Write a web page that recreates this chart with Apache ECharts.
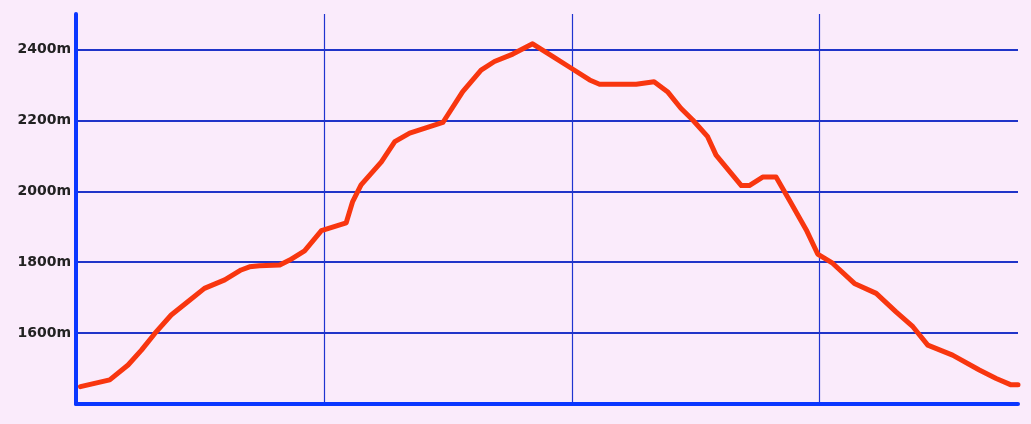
<!DOCTYPE html>
<html>
<head>
<meta charset="utf-8">
<script src="https://cdn.jsdelivr.net/npm/echarts@6/dist/echarts.min.js"></script>
<style>
html,body{margin:0;padding:0;background:#faebfb;}
#chart{width:1031px;height:424px;}
</style>
</head>
<body>
<div id="chart"></div>
<script>
// distance along route (km)
const distances = [0.09,0.68,1.05,1.32,1.59,1.92,2.26,2.59,3.0,3.33,3.5,3.7,4.11,4.31,4.61,4.95,5.45,5.58,5.75,6.16,6.43,6.73,7.4,7.8,8.17,8.44,8.81,9.21,9.62,9.99,10.36,10.56,11.3,11.66,11.93,12.2,12.44,12.74,12.91,13.42,13.58,13.85,14.12,14.39,14.73,14.96,15.26,15.7,16.14,16.54,16.88,17.18,17.68,18.22,18.56,18.86,19.0];
// elevation (m)
const elevations = [1449,1468,1510,1552,1599,1651,1689,1726,1750,1778,1787,1790,1792,1806,1832,1889,1911,1971,2018,2083,2140,2164,2194,2281,2342,2366,2387,2416,2380,2347,2314,2302,2302,2309,2281,2234,2201,2154,2102,2016,2016,2040,2040,1975,1891,1823,1797,1740,1712,1660,1618,1566,1538,1496,1472,1454,1454];
const yTicks = [1600,1800,2000,2200,2400];

const chart = echarts.init(document.getElementById('chart'));
chart.setOption({
  backgroundColor: '#faebfb',
  animation: false,
  grid: {left: 76, top: 14, width: 942, height: 390},
  xAxis: {
    type: 'value', min: 0, max: 19, interval: 5,
    axisLine: {show: true, lineStyle: {color: '#0a36ff', width: 4}},
    axisTick: {show: false},
    axisLabel: {show: false},
    splitLine: {show: true, showMinLine: false, showMaxLine: false, lineStyle: {color: '#1f34d0', width: 1.2}}
  },
  yAxis: {
    type: 'value', min: 1400, max: 2500, interval: 200,
    axisLine: {show: true, lineStyle: {color: '#0a36ff', width: 4}},
    axisTick: {show: false},
    axisLabel: {
      margin: 5,
      fontFamily: 'DejaVu Sans', fontWeight: 'bold', fontSize: 14, color: '#222',
      formatter: v => yTicks.indexOf(v) >= 0 ? v + 'm' : ''
    },
    splitLine: {show: true, showMinLine: false, showMaxLine: false, lineStyle: {color: '#1f34c8', width: 2}}
  },
  series: [{
    type: 'line',
    data: distances.map((d, i) => [d, elevations[i]]),
    symbol: 'none',
    lineStyle: {color: '#f8360f', width: 5, join: 'round', cap: 'round'}
  }]
});
</script>
</body>
</html>
